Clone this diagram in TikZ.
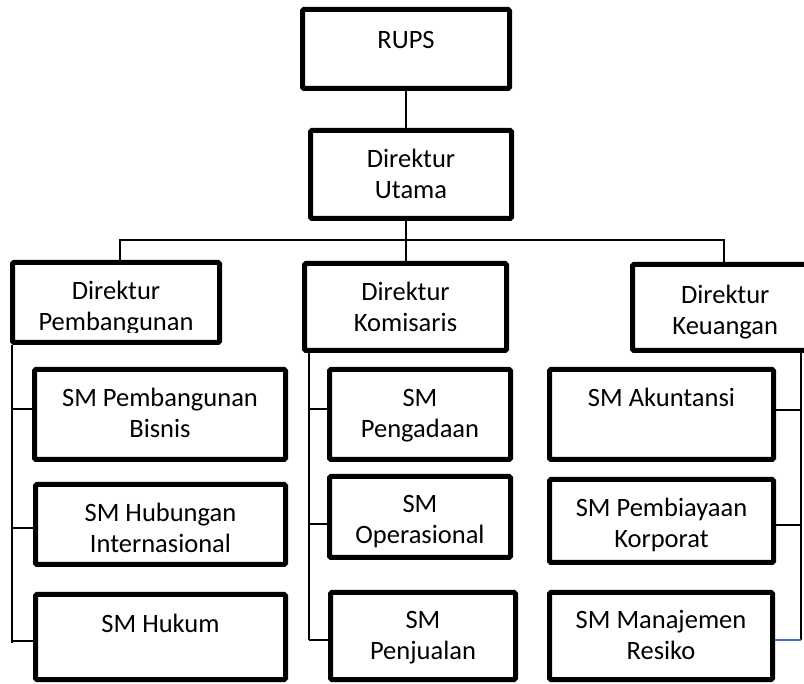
\documentclass[tikz,border=0pt]{standalone}
\usepackage{fontspec}
\setmainfont{Carlito}
\usetikzlibrary{fit}

\tikzset{
  box/.style={draw, line width=5pt, rounded corners=1.5pt, inner sep=0pt},
  txt/.style={font=\fontsize{26.5}{31}\selectfont, align=center, inner sep=0pt, anchor=north},
  link/.style={line width=1.3pt},
  bluelink/.style={link, draw={rgb,255:red,68;green,114;blue,196}},
}

\begin{document}
\begin{tikzpicture}[x=1pt, y=-1pt]
  \clip (0,0) rectangle (804,684);
  \fill[white] (0,0) rectangle (804,684);

  % top of the chart
  \node[box, fit={(302.5,9.5) (509.5,88.5)}] (rups) {};
  \node[box, fit={(310.5,130.5) (511.5,218.5)}] (utama) {};

  % directors
  \node[box, fit={(12.5,262.5) (219.5,342.5)}] (dpemb) {};
  \node[box, fit={(304.5,263.5) (506.5,350.5)}] (dkom) {};
  \node[box, fit={(632.5,264.5) (818,350.5)}] (dkeu) {};

  % senior managers under each director
  \node[box, fit={(34.5,369.5) (285.5,459.5)}] (smA1) {};
  \node[box, fit={(35.5,484.5) (285.5,564.5)}] (smA2) {};
  \node[box, fit={(35.5,594.5) (285.5,679.5)}] (smA3) {};
  \node[box, fit={(329.5,369.5) (510.5,459.5)}] (smB1) {};
  \node[box, fit={(329.5,476.5) (510.5,557.5)}] (smB2) {};
  \node[box, fit={(330.5,592.5) (515.5,679.5)}] (smB3) {};
  \node[box, fit={(549.5,369.5) (773.5,459.5)}] (smC1) {};
  \node[box, fit={(549.5,479.5) (773.5,562.5)}] (smC2) {};
  \node[box, fit={(549.5,592.5) (772.5,679.5)}] (smC3) {};

  % labels, set from the top of each box
  \node[txt] (rupsT)  at ([yshift=-20pt]rups.north)  {\strut RUPS};
  \node[txt] (utamaT) at ([yshift=-18pt]utama.north) {\strut Direktur\\Utama};
  \begin{scope}
    \clip (15,265) rectangle (217,333);
    \node[txt] (dpembT) at ([yshift=-17.5pt]dpemb.north) {\strut Direktur\\Pembangunan};
  \end{scope}
  \node[txt] (dkomT)  at ([yshift=-17.5pt]dkom.north)  {\strut Direktur\\Komisaris};
  \node[txt] (dkeuT)  at ([yshift=-19.5pt]dkeu.north)  {\strut Direktur\\Keuangan};
  \node[txt] (smA1T)  at ([yshift=-17.5pt]smA1.north)  {\strut SM Pembangunan\\Bisnis};
  \node[txt] (smA2T)  at ([yshift=-18pt]smA2.north)    {\strut SM Hubungan\\Internasional};
  \node[txt] (smA3T)  at ([yshift=-19pt]smA3.north)    {\strut SM Hukum};
  \node[txt] (smB1T)  at ([yshift=-17.5pt]smB1.north)  {\strut SM\\Pengadaan};
  \node[txt] (smB2T)  at ([yshift=-17pt]smB2.north)    {\strut SM\\Operasional};
  \node[txt] (smB3T)  at ([yshift=-17pt]smB3.north)    {\strut SM\\Penjualan};
  \node[txt] (smC1T)  at ([yshift=-18pt]smC1.north)    {\strut SM Akuntansi};
  \node[txt] (smC2T)  at ([yshift=-18pt]smC2.north)    {\strut SM Pembiayaan\\Korporat};
  \node[txt] (smC3T)  at ([yshift=-17pt]smC3.north)    {\strut SM Manajemen\\Resiko};

  % RUPS down to the main director, then the bus to the three directors
  \coordinate (hub)  at (406,240);
  \coordinate (busL) at (120,240);
  \coordinate (busR) at (724,240);
  \draw[link] (rups.south) -- (rups.south |- utama.north);
  \draw[link] (hub |- utama.south) -- (hub |- dkom.north);
  \draw[link] (busL |- dpemb.north) -- (busL) -- (busR) -- (busR |- dkeu.north);

  % left spine
  \coordinate (spA) at (12,643);
  \draw[link] (spA |- dpemb.south) -- (spA);
  \draw[link] (spA |- 0,409) -- (smA1.west |- 0,409);
  \draw[link] (spA |- 0,528) -- (smA2.west |- 0,528);
  \draw[link] (spA |- 0,641) -- (smA3.west |- 0,641);

  % middle spine
  \coordinate (spB) at (309,640);
  \draw[link] (spB |- dkom.south) -- (spB);
  \draw[link] (spB |- 0,409) -- (smB1.west |- 0,409);
  \draw[link] (spB |- 0,524) -- (smB2.west |- 0,524);
  \draw[link] (spB) -- (smB3.west |- spB);

  % right spine
  \coordinate (spC) at (801,640);
  \draw[link] (spC |- dkeu.south) -- (spC);
  \draw[link] (spC |- 0,410) -- (smC1.east |- 0,410);
  \draw[link] (spC |- 0,525) -- (smC2.east |- 0,525);
  \draw[bluelink] (spC) -- (smC3.east |- spC);
\end{tikzpicture}
\end{document}
